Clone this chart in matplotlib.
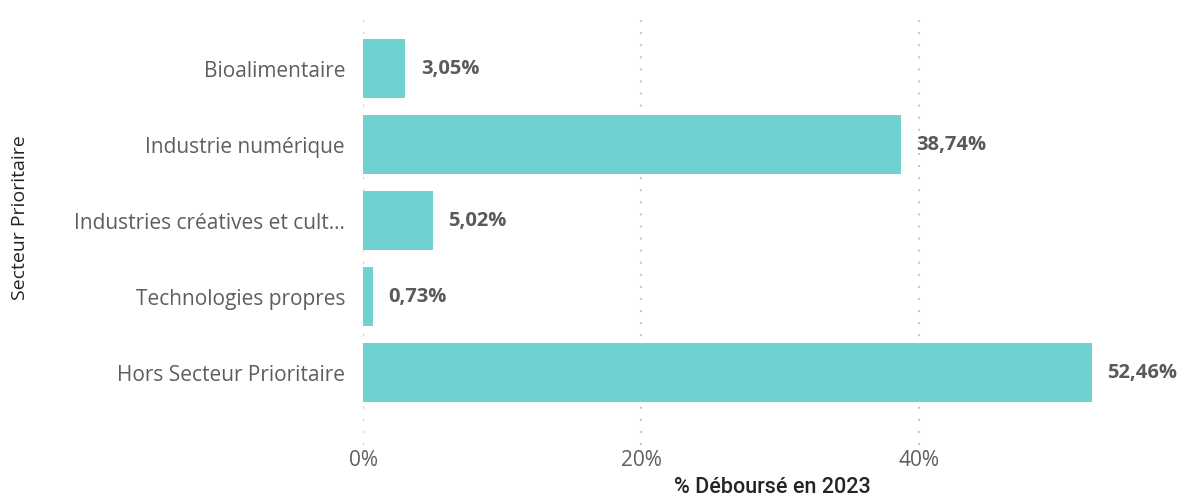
import matplotlib.pyplot as plt
from matplotlib.ticker import FuncFormatter

categories = ['Bioalimentaire', 'Industrie numérique', 'Industries créatives et cult…',
              'Technologies propres', 'Hors Secteur Prioritaire']
values = [3.05, 38.74, 5.02, 0.73, 52.46]
ticks = [0, 20, 40]

BAR_COLOR = '#70D1D1'
TEXT_COLOR = '#605E5C'
LABEL_COLOR = '#5A5A5A'
TITLE_COLOR = '#252423'
GRID_COLOR = '#C8C8C8'

fig = plt.figure(figsize=(11.83, 4.98), dpi=100)
ax = fig.add_axes([0.3069, 0.1064, 0.693, 0.8735])

pos = list(range(len(categories)))
ax.barh(pos, values, height=0.776, color=BAR_COLOR, zorder=2)

for y, v in zip(pos, values):
    ax.annotate(f'{v:.2f}%'.replace('.', ','), (v, y), xytext=(11, 0),
                textcoords='offset points', va='center', ha='left',
                fontsize=14.5, fontweight='bold', color=LABEL_COLOR,
                family='Open Sans', zorder=3)

ax.set_xlim(0, 59)
ax.set_ylim(4.95, -0.77)
ax.set_xticks(ticks)
ax.xaxis.set_major_formatter(FuncFormatter(lambda x, p: f'{x:.0f}%'))
ax.set_yticks(pos)
ax.set_yticklabels(categories)

for t in ticks:
    ax.axvline(t, color=GRID_COLOR, lw=1.5, ls=(0, (1, 4.8)), zorder=1)

for s in ax.spines.values():
    s.set_visible(False)
ax.tick_params(length=0)
ax.tick_params(axis='y', pad=13, labelsize=15, labelcolor=TEXT_COLOR)
ax.tick_params(axis='x', pad=3.5, labelsize=15, labelcolor=TEXT_COLOR)
for lbl in ax.get_xticklabels() + ax.get_yticklabels():
    lbl.set_family('Open Sans')

fig.text(0.653, 0.022, '% Déboursé en 2023', ha='center', va='center',
         fontsize=15.5, fontweight='medium', color=TITLE_COLOR, family='Roboto')
fig.text(0.0165, 0.564, 'Secteur Prioritaire', ha='center', va='center',
         rotation=90, fontsize=14, color=TITLE_COLOR, family='Open Sans')

fig.savefig('out.png', dpi=100)
